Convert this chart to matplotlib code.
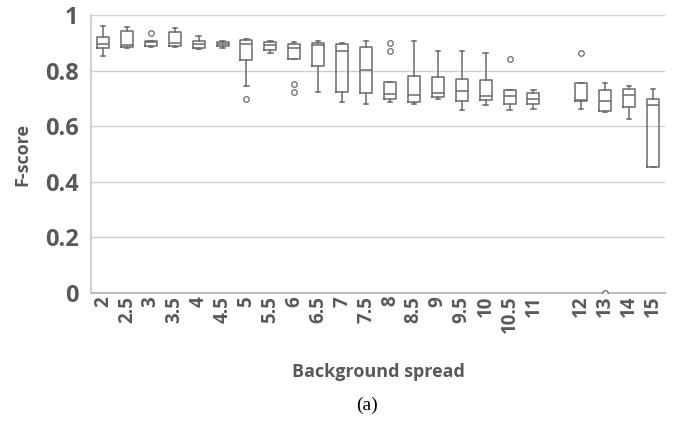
import matplotlib
matplotlib.use("Agg")
import matplotlib.pyplot as plt

categories = ["2", "2.5", "3", "3.5", "4", "4.5", "5", "5.5", "6", "6.5", "7", "7.5",
              "8", "8.5", "9", "9.5", "10", "10.5", "11", "", "12", "13", "14", "15"]
# per non-empty category: whisker low, Q1, median, Q3, whisker high
whislo = [0.853, 0.880, 0.885, 0.885, 0.879, 0.880, 0.745, 0.862, 0.843, 0.723, 0.687, 0.680,
          0.687, 0.680, 0.697, 0.658, 0.677, 0.658, 0.662, None, 0.661, 0.650, 0.625, 0.452]
q1 = [0.880, 0.884, 0.890, 0.888, 0.882, 0.888, 0.838, 0.874, 0.843, 0.817, 0.723, 0.721,
      0.697, 0.687, 0.706, 0.692, 0.693, 0.681, 0.681, None, 0.690, 0.654, 0.668, 0.452]
med = [0.897, 0.892, 0.902, 0.898, 0.894, 0.896, 0.894, 0.893, 0.880, 0.891, 0.872, 0.802,
       0.717, 0.711, 0.721, 0.727, 0.710, 0.709, 0.698, None, 0.693, 0.692, 0.711, 0.676]
q3 = [0.922, 0.944, 0.908, 0.940, 0.906, 0.902, 0.910, 0.904, 0.897, 0.901, 0.897, 0.884,
      0.760, 0.782, 0.778, 0.769, 0.767, 0.729, 0.721, None, 0.754, 0.729, 0.733, 0.699]
whishi = [0.960, 0.958, 0.908, 0.952, 0.925, 0.908, 0.915, 0.908, 0.903, 0.908, 0.901, 0.905,
          0.760, 0.905, 0.869, 0.872, 0.864, 0.729, 0.730, None, 0.754, 0.754, 0.744, 0.733]
outliers = [[], [], [0.934], [], [], [], [0.697], [], [0.752, 0.724], [], [], [],
            [0.898, 0.869], [], [], [], [], [0.842], [], None, [0.864], [0.0], [], []]

yticks = [0, 0.2, 0.4, 0.6, 0.8, 1.0]
ytick_labels = ["0", "0.2", "0.4", "0.6", "0.8", "1"]

gray_text = "#595959"
box_col = "#6a6a6a"

fig = plt.figure(figsize=(6.8, 4.24), dpi=100)
ax = fig.add_axes([91/680, 1-293/424, (665-91)/680, (293-15)/424])

stats = []
positions = []
for i, c in enumerate(categories):
    if whislo[i] is None:
        continue
    stats.append(dict(whislo=whislo[i], q1=q1[i], med=med[i], q3=q3[i],
                      whishi=whishi[i], fliers=outliers[i], label=c))
    positions.append(i)

lp = dict(color=box_col, linewidth=1.1)
ax.bxp(stats, positions=positions, widths=0.5, capwidths=0.18,
       boxprops=lp, whiskerprops=lp, capprops=lp,
       medianprops=dict(color=box_col, linewidth=1.1),
       flierprops=dict(marker="o", markersize=4, markerfacecolor="white",
                       markeredgecolor=box_col, markeredgewidth=0.9),
       zorder=3)

ax.set_xlim(-0.5, len(categories) - 0.5)
ax.set_ylim(0, 1)
ax.set_xticks(range(len(categories)))
ax.set_xticklabels(categories, rotation=90, fontsize=13.5, fontweight="bold",
                   color=gray_text, family="Open Sans")
ax.set_yticks(yticks)
ax.set_yticklabels(ytick_labels, fontsize=17, fontweight="bold", color=gray_text,
                   family="Open Sans")
ax.tick_params(axis="y", length=0, pad=9)
ax.tick_params(axis="x", length=0, pad=2)
ax.grid(axis="y", color="#d0d0d0", linewidth=1.0, zorder=0)
ax.set_axisbelow(True)
for s in ["top", "right"]:
    ax.spines[s].set_visible(False)
ax.spines["left"].set_color("#c8c8c8")
ax.spines["left"].set_linewidth(1.2)
ax.spines["bottom"].set_color("#bdbdbd")
ax.spines["bottom"].set_linewidth(1.5)

fig.text(378/680, 1-372/424, "Background spread", ha="center", va="center",
         fontsize=13, fontweight="bold", color=gray_text, family="Open Sans")
fig.text(22/680, 1-155/424, "F-score", ha="center", va="center", rotation=90,
         fontsize=13, fontweight="bold", color=gray_text, family="Open Sans")
fig.text(367/680, 1-405/424, "(a)", ha="center", va="center",
         fontsize=14, color="black", family="Liberation Serif")

fig.savefig("out.png", dpi=100)
